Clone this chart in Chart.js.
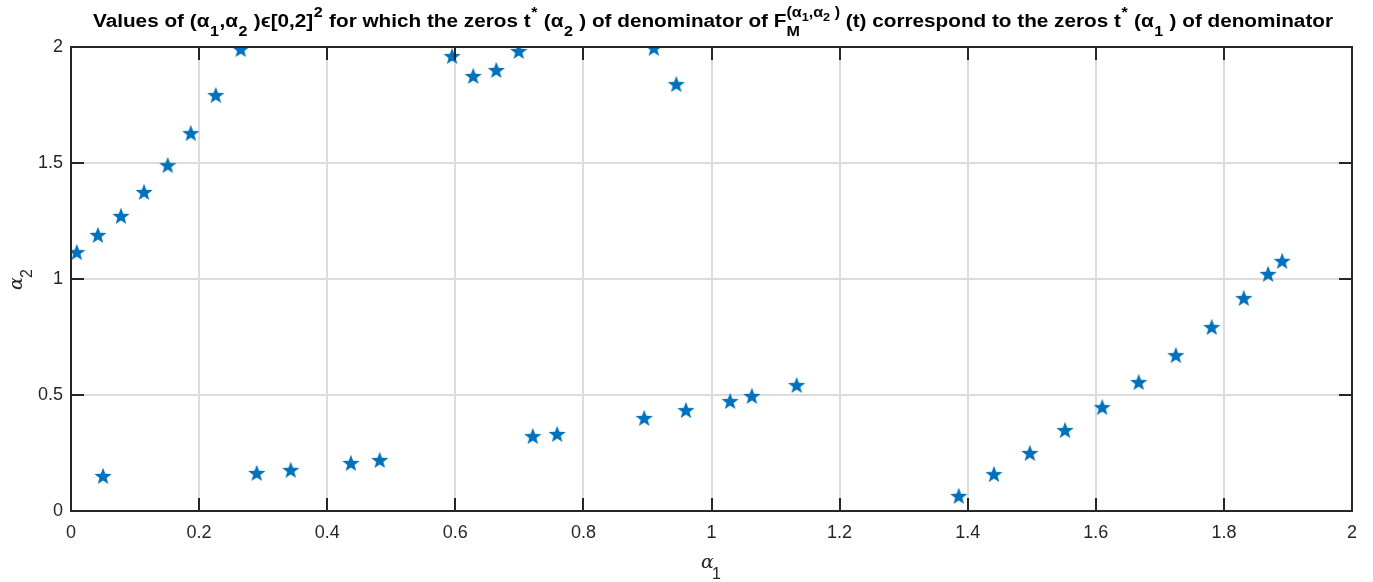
<!DOCTYPE html>
<html>
<head>
<meta charset="utf-8">
<script src="https://cdn.jsdelivr.net/npm/chart.js@4.4.0/dist/chart.umd.min.js"></script>
<style>
  html, body { margin:0; padding:0; background:#fff; }
  #wrap { width:1373px; height:582px; }
</style>
</head>
<body>
<div id="wrap"><canvas id="c" width="1373" height="582"></canvas></div>
<script>
// data
const alpha1 = [0.009,0.042,0.078,0.114,0.151,0.187,0.226,0.265,
                0.050,0.290,0.343,0.437,0.482,
                0.595,0.628,0.664,0.699,0.721,0.759,
                0.910,0.945,0.895,0.960,1.029,1.063,1.133,
                1.386,1.441,1.497,1.552,1.610,1.667,1.725,1.781,1.831,1.869,1.891];
const alpha2 = [1.116,1.190,1.272,1.375,1.491,1.629,1.793,1.991,
                0.151,0.164,0.177,0.207,0.220,
                1.961,1.875,1.901,1.983,0.323,0.332,
                1.996,1.840,0.401,0.435,0.474,0.496,0.543,
                0.065,0.159,0.250,0.349,0.448,0.556,0.672,0.793,0.918,1.022,1.078];
const xTicks = [0,0.2,0.4,0.6,0.8,1,1.2,1.4,1.6,1.8,2];
const yTicks = [0,0.5,1,1.5,2];

const BLUE = '#0072BD';
const DARK = '#262626';

// filled five-point star marker
function makeStar(r){
  const s = Math.ceil(r*2+4);
  const cv = document.createElement('canvas');
  cv.width = s; cv.height = s;
  const g = cv.getContext('2d');
  const c = s/2, ri = r*0.42;
  g.beginPath();
  for(let i=0;i<10;i++){
    const rad = i%2===0 ? r : ri;
    const a = -Math.PI/2 + i*Math.PI/5;
    const px = c + rad*Math.cos(a), py = c + 0.8 + rad*Math.sin(a);
    if(i===0) g.moveTo(px,py); else g.lineTo(px,py);
  }
  g.closePath();
  g.fillStyle = BLUE;
  g.fill();
  return cv;
}
const star = makeStar(9);

// title pieces: [text, kind]
const titleRuns = [
  ['Values of (\u03b1','n'],['1','sub'],[',\u03b1','n'],['2','sub'],[' )\u03f5[0,2]','n'],['2','sup'],
  [' for which the zeros t','n'],['*','sup'],[' (\u03b1','n'],['2','sub'],[' ) of denominator of F','n'],
  ['FM','stack'],
  [' (t) correspond to the zeros t','n'],['*','sup'],[' (\u03b1','n'],['1','sub'],[' ) of denominator','n']
];

const frame = {
  id:'frame',
  afterDraw(chart){
    const {ctx, chartArea:a, scales} = chart;
    ctx.save();
    // inner tick marks on all four sides
    ctx.strokeStyle = DARK; ctx.lineWidth = 2;
    const tl = 13;
    xTicks.forEach(v=>{
      const x = Math.round(scales.x.getPixelForValue(v));
      ctx.beginPath(); ctx.moveTo(x,a.bottom); ctx.lineTo(x,a.bottom-tl);
      ctx.moveTo(x,a.top); ctx.lineTo(x,a.top+tl); ctx.stroke();
    });
    yTicks.forEach(v=>{
      const y = Math.round(scales.y.getPixelForValue(v));
      ctx.beginPath(); ctx.moveTo(a.left,y); ctx.lineTo(a.left+tl,y);
      ctx.moveTo(a.right,y); ctx.lineTo(a.right-tl,y); ctx.stroke();
    });
    ctx.strokeRect(a.left, a.top, a.right-a.left, a.bottom-a.top);

    // axis labels
    ctx.fillStyle = DARK;
    ctx.font = 'italic 19px "DejaVu Serif"';
    ctx.textBaseline = 'alphabetic';
    ctx.fillText('\u03b1', 701, 568);
    ctx.font = '16px "Liberation Sans"';
    ctx.fillText('1', 712, 579);
    ctx.translate(22, 280);
    ctx.rotate(-Math.PI/2);
    ctx.font = 'italic 19px "DejaVu Serif"';
    ctx.fillText('\u03b1', -10, 0);
    ctx.font = '16px "Liberation Sans"';
    ctx.fillText('2', 2, 10);
    ctx.setTransform(1,0,0,1,0,0);

    // title with sub/superscripts
    const big = 'bold 18px "Liberation Sans"';
    const small = 'bold 14px "Liberation Sans"';
    const tiny = 'bold 11px "Liberation Sans"';
    const base = 27;
    function w(t,f){ ctx.font=f; return ctx.measureText(t).width; }
    const supText = '(\u03b1', supText2 = ',\u03b1', supText3 = ' )';
    function runWidth(r){
      if(r[1]==='n') return w(r[0],big);
      if(r[1]==='stack'){
        const sup = w(supText,small)+w('1',tiny)+w(supText2,small)+w('2',tiny)+w(supText3,small);
        return Math.max(w('M',small), sup);
      }
      return w(r[0],small) + 1;
    }
    let total = 0; titleRuns.forEach(r=> total += runWidth(r));
    const left = 93, target = 1240;
    const sx = target/total;
    ctx.translate(left, 0);
    ctx.scale(sx, 1);
    let x = 0;
    ctx.fillStyle = '#000';
    titleRuns.forEach(r=>{
      if(r[1]==='n'){ ctx.font=big; ctx.fillText(r[0],x,base); }
      else if(r[1]==='sub'){ ctx.font=small; ctx.fillText(r[0],x+0.5,base+9); }
      else if(r[1]==='sup'){ ctx.font=small; ctx.fillText(r[0],x+0.5,base-10); }
      else {
        ctx.font=small; ctx.fillText('M',x,base+9);
        let px = x;
        ctx.font=small; ctx.fillText(supText,px,base-10); px+=w(supText,small);
        ctx.font=tiny; ctx.fillText('1',px,base-6); px+=w('1',tiny);
        ctx.font=small; ctx.fillText(supText2,px,base-10); px+=w(supText2,small);
        ctx.font=tiny; ctx.fillText('2',px,base-6); px+=w('2',tiny);
        ctx.font=small; ctx.fillText(supText3,px,base-10);
      }
      x += runWidth(r);
    });
    ctx.restore();
  }
};

new Chart(document.getElementById('c').getContext('2d'),{
  type:'scatter',
  data:{
    datasets:[{
      data: alpha1.map((v,i)=>({x:v, y:alpha2[i]})),
      pointStyle: star,
      pointRadius: 9,
      pointHoverRadius: 9
    }]
  },
  options:{
    responsive:false,
    animation:false,
    events:[],
    layout:{ padding:{ top:47, right:21, left:0, bottom:0 } },
    plugins:{ legend:{display:false}, tooltip:{enabled:false} },
    scales:{
      x:{
        type:'linear', min:0, max:2,
        afterBuildTicks(s){ s.ticks = xTicks.map(v=>({value:v})); },
        afterFit(s){ s.height = 71; },
        border:{display:false},
        grid:{ color:'#dcdcdc', lineWidth:2, drawTicks:false },
        ticks:{ color:DARK, font:{family:'Liberation Sans', size:18}, padding:11, maxRotation:0,
                callback:v=>String(v) }
      },
      y:{
        type:'linear', min:0, max:2,
        afterBuildTicks(s){ s.ticks = yTicks.map(v=>({value:v})); },
        afterFit(s){ s.width = 71; },
        border:{display:false},
        grid:{ color:'#dcdcdc', lineWidth:2, drawTicks:false },
        ticks:{ color:DARK, font:{family:'Liberation Sans', size:18}, padding:8,
                callback:v=>String(v) }
      }
    }
  },
  plugins:[frame]
});
</script>
</body>
</html>
